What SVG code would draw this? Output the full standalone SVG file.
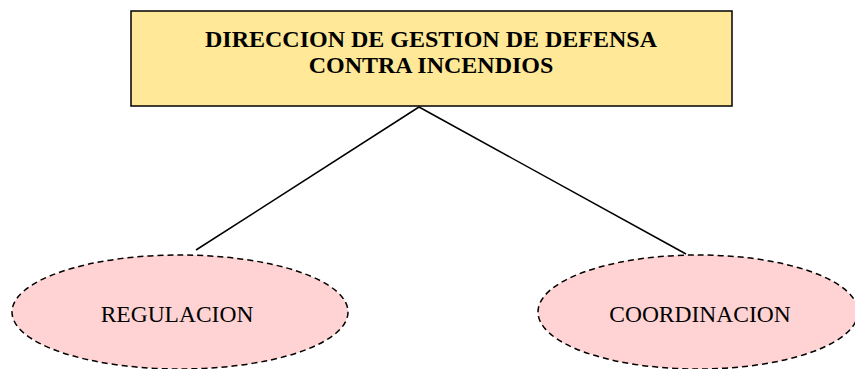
<svg xmlns="http://www.w3.org/2000/svg" width="855" height="369" viewBox="0 0 855 369">
<style>
.t{font-family:"Liberation Serif","Times New Roman",serif;fill:#000}
.b{font-weight:bold;font-size:24px}
.n{font-size:23.5px}
.e{fill:#FFD3D3;stroke:#000;stroke-width:1.5;stroke-dasharray:6 4}
.c{stroke:#000;stroke-width:1.5;fill:none}
</style>
<rect width="855" height="369" fill="#fff"/>
<g id="connectors">
<line class="c" x1="419" y1="107" x2="196" y2="250"/>
<line class="c" x1="419" y1="107" x2="686" y2="254"/>
</g>
<g id="direccion">
<rect x="131" y="11" width="601" height="95" fill="#FFE897" stroke="#000" stroke-width="1.5"/>
<text class="t b" x="431" y="47" text-anchor="middle">DIRECCION DE GESTION DE DEFENSA</text>
<text class="t b" x="431" y="73" text-anchor="middle">CONTRA INCENDIOS</text>
</g>
<g id="regulacion">
<ellipse class="e" cx="180" cy="312" rx="168" ry="57"/>
<text class="t n" x="177" y="322" text-anchor="middle">REGULACION</text>
</g>
<g id="coordinacion">
<ellipse class="e" cx="698" cy="312" rx="160" ry="57"/>
<text class="t n" x="700" y="322" text-anchor="middle">COORDINACION</text>
</g>
</svg>
